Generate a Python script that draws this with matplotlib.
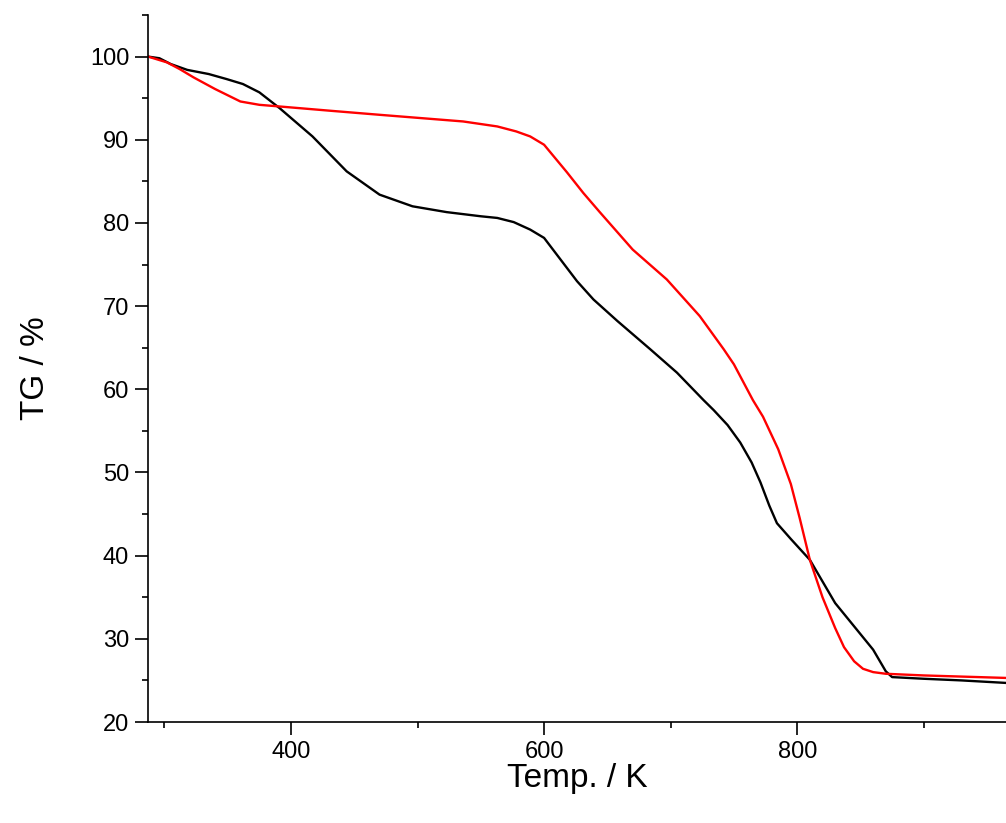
import matplotlib.pyplot as plt
from matplotlib.ticker import MultipleLocator

plt.rcParams['font.family'] = ['Liberation Sans', 'DejaVu Sans']

# black curve (temperature in K, TG in %)
temp_black = [287, 296, 305, 318, 335, 349, 362, 375, 391, 417, 444, 470, 496,
              523, 550, 563, 576, 589, 600, 613, 626, 639, 658, 684, 705, 726,
              734, 745, 755, 764, 771, 778, 784, 795, 810, 830, 845, 860, 870,
              875, 900, 930, 965]
tg_black = [100.0, 99.8, 99.1, 98.4, 97.9, 97.3, 96.7, 95.7, 93.8, 90.4, 86.2,
            83.4, 82.0, 81.3, 80.8, 80.6, 80.1, 79.2, 78.2, 75.6, 73.0, 70.8,
            68.2, 64.8, 62.0, 58.7, 57.5, 55.7, 53.6, 51.2, 48.8, 46.0, 43.9,
            42.0, 39.5, 34.3, 31.5, 28.7, 26.1, 25.4, 25.2, 25.0, 24.7]

# red curve
temp_red = [287, 302, 312, 323, 340, 360, 375, 391, 430, 470, 536, 563, 578,
            589, 600, 618, 631, 644, 670, 697, 723, 742, 750, 765, 773, 785,
            795, 802, 810, 820, 830, 837, 845, 852, 860, 870, 900, 965]
tg_red = [100.0, 99.3, 98.5, 97.5, 96.1, 94.6, 94.2, 94.0, 93.5, 93.0, 92.2,
          91.6, 91.0, 90.4, 89.4, 86.1, 83.6, 81.3, 76.8, 73.2, 68.8, 64.8,
          63.0, 58.7, 56.7, 52.8, 48.6, 44.5, 39.5, 35.0, 31.3, 29.0, 27.3,
          26.4, 26.0, 25.8, 25.6, 25.3]

fig = plt.figure(figsize=(10.06, 8.23), dpi=100)
ax = fig.add_axes([0.1471, 0.1227, 0.8529, 0.8591])

ax.plot(temp_black, tg_black, color='black', lw=1.7)
ax.plot(temp_red, tg_red, color='red', lw=1.7)

ax.set_xlim(287, 965)
ax.set_ylim(20, 105)
ax.xaxis.set_major_locator(MultipleLocator(200))
ax.xaxis.set_minor_locator(MultipleLocator(100))
ax.yaxis.set_major_locator(MultipleLocator(10))
ax.yaxis.set_minor_locator(MultipleLocator(5))
ax.tick_params(which='major', direction='out', length=9.5, width=1.2, labelsize=17, pad=4)
ax.tick_params(which='minor', direction='out', length=4.5, width=1.2)

for side in ['top', 'right']:
    ax.spines[side].set_visible(False)
for side in ['left', 'bottom']:
    ax.spines[side].set_linewidth(1.2)

ax.set_xlabel('Temp. / K', fontsize=24, labelpad=0)
ax.set_ylabel('TG / %', fontsize=24, labelpad=28)

fig.savefig('out.png', dpi=100)
